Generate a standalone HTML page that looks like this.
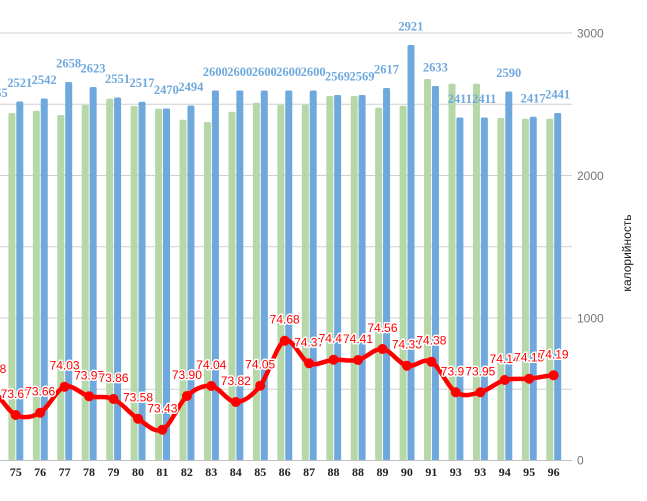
<!DOCTYPE html>
<html><head><meta charset="utf-8"><style>
html,body{margin:0;padding:0;background:#fff;}
svg{display:block;}
.bl{font-family:"Liberation Serif",serif;font-weight:bold;font-size:12.5px;fill:#6fa8dc;text-anchor:middle;}
.xl{font-family:"Liberation Serif",serif;font-weight:bold;font-size:12px;fill:#222;text-anchor:middle;}
.rl{font-family:"Liberation Sans",sans-serif;font-size:12px;fill:#ff0000;text-anchor:middle;stroke:#fff;stroke-width:3px;paint-order:stroke;stroke-linejoin:round;}
.yl{font-family:"Liberation Sans",sans-serif;font-size:12px;fill:#757575;}
</style></head><body>
<svg width="647" height="501" viewBox="0 0 647 501" xmlns="http://www.w3.org/2000/svg">
<rect width="647" height="501" fill="#fff"/>
<g stroke="#d0d0d0" stroke-width="1">
<line x1="0" y1="33" x2="572" y2="33"/>
<line x1="0" y1="104.25" x2="572" y2="104.25"/>
<line x1="0" y1="175.5" x2="572" y2="175.5"/>
<line x1="0" y1="246.75" x2="572" y2="246.75"/>
<line x1="0" y1="318" x2="572" y2="318"/>
<line x1="0" y1="389.25" x2="572" y2="389.25"/>
</g>
<g fill="#b6d7a8">
<rect x="8.4" y="113" width="7" height="347.5" rx="1.5"/>
<rect x="32.85" y="110.7" width="7" height="349.8" rx="1.5"/>
<rect x="57.3" y="115" width="7" height="345.5" rx="1.5"/>
<rect x="81.75" y="105" width="7" height="355.5" rx="1.5"/>
<rect x="106.2" y="98.7" width="7" height="361.8" rx="1.5"/>
<rect x="130.65" y="106" width="7" height="354.5" rx="1.5"/>
<rect x="155.1" y="108.7" width="7" height="351.8" rx="1.5"/>
<rect x="179.55" y="119.7" width="7" height="340.8" rx="1.5"/>
<rect x="204" y="122" width="7" height="338.5" rx="1.5"/>
<rect x="228.45" y="111.7" width="7" height="348.8" rx="1.5"/>
<rect x="252.9" y="102.7" width="7" height="357.8" rx="1.5"/>
<rect x="277.35" y="104.7" width="7" height="355.8" rx="1.5"/>
<rect x="301.8" y="104.7" width="7" height="355.8" rx="1.5"/>
<rect x="326.25" y="96" width="7" height="364.5" rx="1.5"/>
<rect x="350.7" y="96" width="7" height="364.5" rx="1.5"/>
<rect x="375.15" y="107.7" width="7" height="352.8" rx="1.5"/>
<rect x="399.6" y="105.7" width="7" height="354.8" rx="1.5"/>
<rect x="424.05" y="79" width="7" height="381.5" rx="1.5"/>
<rect x="448.5" y="83.7" width="7" height="376.8" rx="1.5"/>
<rect x="472.95" y="83.7" width="7" height="376.8" rx="1.5"/>
<rect x="497.4" y="118" width="7" height="342.5" rx="1.5"/>
<rect x="521.85" y="118.7" width="7" height="341.8" rx="1.5"/>
<rect x="546.3" y="118.7" width="7" height="341.8" rx="1.5"/>
</g>
<g fill="#6fa8dc">
<rect x="16.3" y="101.5" width="7" height="359" rx="1.5"/>
<rect x="40.75" y="98.5" width="7" height="362" rx="1.5"/>
<rect x="65.2" y="82" width="7" height="378.5" rx="1.5"/>
<rect x="89.65" y="87" width="7" height="373.5" rx="1.5"/>
<rect x="114.1" y="97.5" width="7" height="363" rx="1.5"/>
<rect x="138.55" y="101.7" width="7" height="358.8" rx="1.5"/>
<rect x="163" y="108.5" width="7" height="352" rx="1.5"/>
<rect x="187.45" y="105.5" width="7" height="355" rx="1.5"/>
<rect x="211.9" y="90.5" width="7" height="370" rx="1.5"/>
<rect x="236.35" y="90.5" width="7" height="370" rx="1.5"/>
<rect x="260.8" y="90.5" width="7" height="370" rx="1.5"/>
<rect x="285.25" y="90.5" width="7" height="370" rx="1.5"/>
<rect x="309.7" y="90.5" width="7" height="370" rx="1.5"/>
<rect x="334.15" y="95" width="7" height="365.5" rx="1.5"/>
<rect x="358.6" y="95" width="7" height="365.5" rx="1.5"/>
<rect x="383.05" y="88" width="7" height="372.5" rx="1.5"/>
<rect x="407.5" y="45" width="7" height="415.5" rx="1.5"/>
<rect x="431.95" y="86" width="7" height="374.5" rx="1.5"/>
<rect x="456.4" y="117.5" width="7" height="343" rx="1.5"/>
<rect x="480.85" y="117.5" width="7" height="343" rx="1.5"/>
<rect x="505.3" y="91.5" width="7" height="369" rx="1.5"/>
<rect x="529.75" y="116.8" width="7" height="343.7" rx="1.5"/>
<rect x="554.2" y="113" width="7" height="347.5" rx="1.5"/>
</g>
<line x1="0" y1="460.5" x2="572" y2="460.5" stroke="#c0c0c0" stroke-width="1"/>
<g class="bl">
<text x="-4.75" y="97">2455</text>
<text x="19.7" y="87">2521</text>
<text x="44.15" y="84">2542</text>
<text x="68.6" y="67.5">2658</text>
<text x="93.05" y="72.5">2623</text>
<text x="117.5" y="83">2551</text>
<text x="141.95" y="87.2">2517</text>
<text x="166.4" y="94">2470</text>
<text x="190.85" y="91">2494</text>
<text x="215.3" y="76">2600</text>
<text x="239.75" y="76">2600</text>
<text x="264.2" y="76">2600</text>
<text x="288.65" y="76">2600</text>
<text x="313.1" y="76">2600</text>
<text x="337.55" y="80.5">2569</text>
<text x="362" y="80.5">2569</text>
<text x="386.45" y="73.5">2617</text>
<text x="410.9" y="30.5">2921</text>
<text x="435.35" y="71.5">2633</text>
<text x="459.8" y="103">2411</text>
<text x="484.25" y="103">2411</text>
<text x="508.7" y="77">2590</text>
<text x="533.15" y="102.3">2417</text>
<text x="557.6" y="98.5">2441</text>
</g>
<path fill="none" stroke="#ff0000" stroke-width="4.5" stroke-linejoin="round" stroke-linecap="round" d="M -8.75 390 C -0.6 394.17, 7.55 411.22, 15.7 415 C 23.85 418.78, 32.05 417.42, 40.2 412.7 C 48.35 407.98, 56.45 389.43, 64.6 386.7 C 72.75 383.97, 80.95 394.25, 89.1 396.3 C 97.25 398.35, 105.35 395.27, 113.5 399 C 121.65 402.73, 129.85 413.58, 138 418.7 C 146.15 423.82, 154.25 433.48, 162.4 429.7 C 170.55 425.92, 178.75 403.28, 186.9 396 C 195.05 388.72, 203.15 385, 211.3 386 C 219.45 387, 227.65 402.05, 235.8 402 C 243.95 401.95, 252.05 395.92, 260.2 385.7 C 268.35 375.48, 276.55 344.43, 284.7 340.7 C 292.85 336.97, 300.95 360.13, 309.1 363.3 C 317.25 366.47, 325.45 360.25, 333.6 359.7 C 341.75 359.15, 349.85 361.78, 358 360 C 366.15 358.22, 374.35 348.05, 382.5 349 C 390.65 349.95, 398.75 363.58, 406.9 365.7 C 415.05 367.82, 423.25 357.27, 431.4 361.7 C 439.55 366.13, 447.65 387.2, 455.8 392.3 C 463.95 397.4, 472.15 394.35, 480.3 392.3 C 488.45 390.25, 496.55 382.27, 504.7 380 C 512.85 377.73, 521.05 379.48, 529.2 378.7 C 537.35 377.92, 545.45 375.87, 553.6 375.3"/>
<g fill="#ff0000">
<circle cx="15.7" cy="415" r="5"/>
<circle cx="40.2" cy="412.7" r="5"/>
<circle cx="64.6" cy="386.7" r="5"/>
<circle cx="89.1" cy="396.3" r="5"/>
<circle cx="113.5" cy="399" r="5"/>
<circle cx="138" cy="418.7" r="5"/>
<circle cx="162.4" cy="429.7" r="5"/>
<circle cx="186.9" cy="396" r="5"/>
<circle cx="211.3" cy="386" r="5"/>
<circle cx="235.8" cy="402" r="5"/>
<circle cx="260.2" cy="385.7" r="5"/>
<circle cx="284.7" cy="340.7" r="5"/>
<circle cx="309.1" cy="363.3" r="5"/>
<circle cx="333.6" cy="359.7" r="5"/>
<circle cx="358" cy="360" r="5"/>
<circle cx="382.5" cy="349" r="5"/>
<circle cx="406.9" cy="365.7" r="5"/>
<circle cx="431.4" cy="361.7" r="5"/>
<circle cx="455.8" cy="392.3" r="5"/>
<circle cx="480.3" cy="392.3" r="5"/>
<circle cx="504.7" cy="380" r="5"/>
<circle cx="529.2" cy="378.7" r="5"/>
<circle cx="553.6" cy="375.3" r="5"/>
</g>
<g class="rl">
<text x="-8.75" y="373">73.78</text>
<text x="15.7" y="398">73.67</text>
<text x="40.2" y="395.7">73.66</text>
<text x="64.6" y="369.7">74.03</text>
<text x="89.1" y="379.3">73.97</text>
<text x="113.5" y="382">73.86</text>
<text x="138" y="401.7">73.58</text>
<text x="162.4" y="412.7">73.43</text>
<text x="186.9" y="379">73.90</text>
<text x="211.3" y="369">74.04</text>
<text x="235.8" y="385">73.82</text>
<text x="260.2" y="368.7">74.05</text>
<text x="284.7" y="323.7">74.68</text>
<text x="309.1" y="346.3">74.37</text>
<text x="333.6" y="342.7">74.47</text>
<text x="358" y="343">74.41</text>
<text x="382.5" y="332">74.56</text>
<text x="406.9" y="348.7">74.33</text>
<text x="431.4" y="344.7">74.38</text>
<text x="455.8" y="375.3">73.97</text>
<text x="480.3" y="375.3">73.95</text>
<text x="504.7" y="363">74.14</text>
<text x="529.2" y="361.7">74.15</text>
<text x="553.6" y="358.3">74.19</text>
</g>
<g class="xl">
<text x="15.7" y="476">75</text>
<text x="40.15" y="476">76</text>
<text x="64.6" y="476">77</text>
<text x="89.05" y="476">78</text>
<text x="113.5" y="476">79</text>
<text x="137.95" y="476">80</text>
<text x="162.4" y="476">81</text>
<text x="186.85" y="476">82</text>
<text x="211.3" y="476">83</text>
<text x="235.75" y="476">84</text>
<text x="260.2" y="476">85</text>
<text x="284.65" y="476">86</text>
<text x="309.1" y="476">87</text>
<text x="333.55" y="476">88</text>
<text x="358" y="476">88</text>
<text x="382.45" y="476">89</text>
<text x="406.9" y="476">90</text>
<text x="431.35" y="476">91</text>
<text x="455.8" y="476">93</text>
<text x="480.25" y="476">93</text>
<text x="504.7" y="476">94</text>
<text x="529.15" y="476">95</text>
<text x="553.6" y="476">96</text>
</g>
<g class="yl">
<text x="577" y="37.5">3000</text>
<text x="577" y="180">2000</text>
<text x="577" y="322.5">1000</text>
<text x="577" y="464.5">0</text>
</g>
<text transform="translate(631,253) rotate(-90)" text-anchor="middle" font-family="Liberation Sans, sans-serif" font-size="12" fill="#1a1a1a">калорийность</text>
</svg>
</body></html>
